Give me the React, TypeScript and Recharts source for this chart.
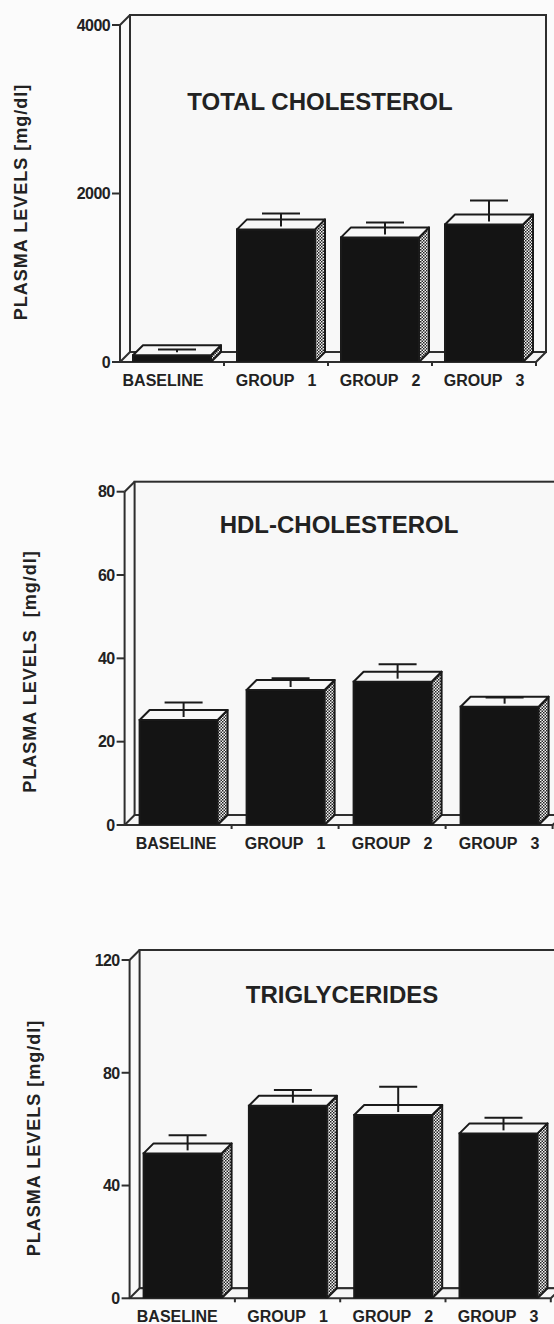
import React from 'react';
import { BarChart, Bar, XAxis, YAxis } from 'recharts';

const categories = ['BASELINE', 'GROUP 1', 'GROUP 2', 'GROUP 3'];

const totalCholValues = [80, 1574, 1479, 1633];
const totalCholErrors = [10, 130, 118, 225];
const totalCholTicks = [0, 2000, 4000];

const hdlValues = [25.2, 32.4, 34.4, 28.4];
const hdlErrors = [3.0, 1.6, 3.0, 1.0];
const hdlTicks = [0, 20, 40, 60, 80];

const trigValues = [51.4, 68.3, 65.0, 58.5];
const trigErrors = [4.7, 3.8, 8.3, 3.8];
const trigTicks = [0, 40, 80, 120];

const FONT = '"Liberation Sans", Arial, Helvetica, sans-serif';
const DX = 10;
const DY = 10;
const W = 554;
const XH = 20;
const LINE = '#2e2e2e';
const TEXT = '#222222';

type PanelCfg = {
  key: string;
  title: string;
  values: number[];
  errors: number[];
  ticks: number[];
  top: number;
  height: number;
  axisX: number;
  pitch: number;
  yTop: number;
  y0: number;
  yLabel: string;
  yLabelX: number;
  yLabelY: number;
  titleX: number;
  titleY: number;
  firstLabelShift: number;
};

const panels: PanelCfg[] = [
  {
    key: 'tc', title: 'TOTAL CHOLESTEROL', values: totalCholValues, errors: totalCholErrors, ticks: totalCholTicks,
    top: 0, height: 400, axisX: 120, pitch: 104, yTop: 25, y0: 362,
    yLabel: 'PLASMA LEVELS [mg/dl]', yLabelX: 21, yLabelY: 202, titleX: 320, titleY: 110, firstLabelShift: -9,
  },
  {
    key: 'hdl', title: 'HDL-CHOLESTEROL', values: hdlValues, errors: hdlErrors, ticks: hdlTicks,
    top: 460, height: 400, axisX: 124.6, pitch: 107, yTop: 31.7, y0: 365,
    yLabel: 'PLASMA LEVELS  [mg/dl]', yLabelX: 30, yLabelY: 211.5, titleX: 339, titleY: 73, firstLabelShift: -2,
  },
  {
    key: 'tg', title: 'TRIGLYCERIDES', values: trigValues, errors: trigErrors, ticks: trigTicks,
    top: 920, height: 404, axisX: 129.6, pitch: 105.3, yTop: 40, y0: 378.3,
    yLabel: 'PLASMA LEVELS [mg/dl]', yLabelX: 33.7, yLabelY: 218, titleX: 342, titleY: 83.3, firstLabelShift: -5,
  },
];

const makeCatTick = (firstShift: number) => (props: any) => {
  const { x, y, payload, index } = props;
  const label = String(payload.value).replace(' ', '   ');
  const shift = index === 0 ? firstShift : 0;
  return (
    <text x={x + shift} y={y + 24} textAnchor="middle" style={{ whiteSpace: 'pre' }}
      fontFamily={FONT} fontSize={16} fontWeight="bold" fill={TEXT}>
      {label}
    </text>
  );
};

const YTick = (props: any) => {
  const { x, y, payload } = props;
  return (
    <text x={x} y={y} dy="0.36em" textAnchor="end" fontFamily={FONT} fontSize={16}
      fontWeight="bold" letterSpacing={-0.6} fill={TEXT}>
      {payload.value}
    </text>
  );
};

const makeBarShape = (patternId: string) => (props: any) => {
  const { x, y, width, height, payload } = props;
  if (!width || height == null) return null;
  const pxPerUnit = payload.value ? height / payload.value : 0;
  const topMidY = y - DY / 2;
  const capY = topMidY - payload.err * pxPerUnit;
  const cx = x + width / 2 + DX / 2;
  const capHalf = 19;
  const side = `${x + width},${y} ${x + width + DX},${y - DY} ${x + width + DX},${y + height - DY} ${x + width},${y + height}`;
  const topFace = `${x},${y} ${x + DX},${y - DY} ${x + width + DX},${y - DY} ${x + width},${y}`;
  return (
    <g>
      <rect x={x} y={y} width={width} height={height} fill="#141414" stroke="#1a1a1a" strokeWidth={2} />
      <polygon points={side} fill={`url(#${patternId})`} stroke="#1a1a1a" strokeWidth={2} strokeLinejoin="round" />
      <polygon points={topFace} fill="#f7f7f7" stroke="#1a1a1a" strokeWidth={2} strokeLinejoin="round" />
      <line x1={cx} x2={cx} y1={capY} y2={topMidY + 2} stroke="#1a1a1a" strokeWidth={2} />
      <line x1={cx - capHalf} x2={cx + capHalf} y1={capY} y2={capY} stroke="#1a1a1a" strokeWidth={2} />
    </g>
  );
};

function Panel({ cfg }: { cfg: PanelCfg }) {
  const data = categories.map((c, i) => ({ name: c, value: cfg.values[i], err: cfg.errors[i] }));
  const plotRight = cfg.axisX + categories.length * cfg.pitch;
  const max = cfg.ticks[cfg.ticks.length - 1];
  const margin = { top: cfg.yTop, right: W - plotRight, bottom: cfg.height - cfg.y0 - XH, left: 0 };
  const patternId = `checker-${cfg.key}`;
  const { axisX, yTop, y0 } = cfg;
  const wallL = axisX + DX;
  const wallR = plotRight + DX;
  const wallT = yTop - DY;
  const floorB = y0 - DY;
  const boundaries = categories.map((_, i) => axisX + (i + 1) * cfg.pitch);
  const CatTick = makeCatTick(cfg.firstLabelShift);
  return (
    <div style={{ position: 'absolute', left: 0, top: cfg.top, width: W, height: cfg.height }}>
      <svg width={W} height={cfg.height} style={{ position: 'absolute', left: 0, top: 0 }}>
        <defs>
          <pattern id={patternId} patternUnits="userSpaceOnUse" width={3} height={3}>
            <rect x={0} y={0} width={3} height={3} fill="#f4f4f4" />
            <rect x={0} y={0} width={1.5} height={1.5} fill="#222" />
            <rect x={1.5} y={1.5} width={1.5} height={1.5} fill="#222" />
          </pattern>
        </defs>
        <polygon points={`${axisX},${yTop} ${wallL},${wallT} ${wallL},${floorB} ${axisX},${y0}`} fill="#f9f9f9" stroke="none" />
        <rect x={wallL} y={wallT} width={wallR - wallL} height={floorB - wallT} fill="#f8f8f8" stroke={LINE} strokeWidth={2} />
        <line x1={axisX} y1={yTop} x2={wallL} y2={wallT} stroke={LINE} strokeWidth={2} />
        <polygon points={`${axisX},${y0} ${wallL},${floorB} ${wallR},${floorB} ${plotRight},${y0}`} fill="#f6f6f6" stroke={LINE} strokeWidth={2} strokeLinejoin="round" />
        {boundaries.map((bx, i) => (
          <line key={i} x1={bx} x2={bx} y1={y0} y2={y0 + 4} stroke={LINE} strokeWidth={2} />
        ))}
        <text x={cfg.titleX} y={cfg.titleY} textAnchor="middle" fontFamily={FONT} fontSize={24} fontWeight="bold" fill={TEXT}>
          {cfg.title}
        </text>
        <text x={cfg.yLabelX} y={cfg.yLabelY} textAnchor="middle" dominantBaseline="central"
          transform={`rotate(-90 ${cfg.yLabelX} ${cfg.yLabelY})`} style={{ whiteSpace: 'pre' }}
          fontFamily={FONT} fontSize={18} fontWeight="bold" letterSpacing={1} fill={TEXT}>
          {cfg.yLabel}
        </text>
      </svg>
      <div style={{ position: 'absolute', left: 0, top: 0 }}>
        <BarChart width={W} height={cfg.height} data={data} margin={margin} barCategoryGap={0}>
          <XAxis dataKey="name" height={XH} interval={0} tickLine={false} axisLine={false}
            tickSize={0} tickMargin={0} tick={<CatTick />} />
          <YAxis type="number" width={axisX} domain={[0, max]} ticks={cfg.ticks} allowDataOverflow
            tickSize={8} tickMargin={2}
            axisLine={{ stroke: LINE, strokeWidth: 2 }}
            tickLine={{ stroke: LINE, strokeWidth: 2 }}
            tick={<YTick />} />
          <Bar dataKey="value" barSize={78} isAnimationActive={false} shape={makeBarShape(patternId)} />
        </BarChart>
      </div>
    </div>
  );
}

export default function App() {
  return (
    <div style={{ position: 'absolute', left: 0, top: 0, width: W, height: 1324, background: '#fbfbfb', overflow: 'hidden' }}>
      {panels.map((p) => (
        <Panel key={p.key} cfg={p} />
      ))}
    </div>
  );
}
